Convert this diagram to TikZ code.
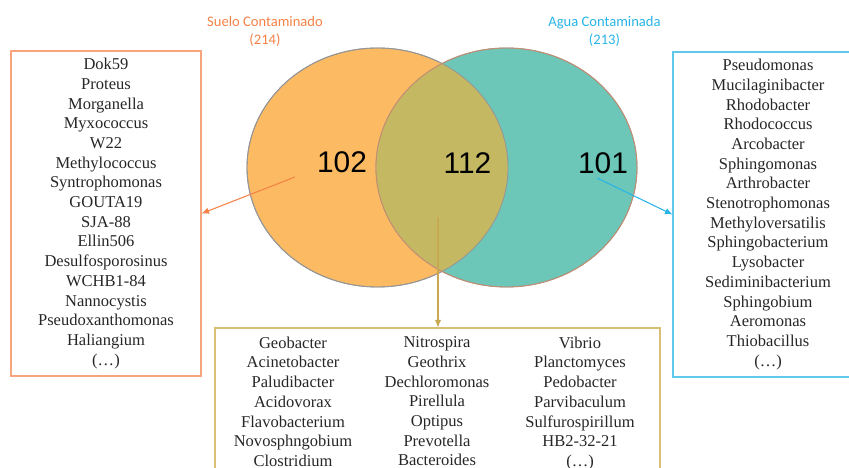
\documentclass[tikz,border=0pt]{standalone}
\usepackage{fontspec}
\setmainfont{Liberation Serif}
\newfontfamily\listfont{Liberation Serif}
\newfontfamily\labelfont{Carlito}
\newfontfamily\numfont{Liberation Sans}
\usetikzlibrary{arrows.meta,positioning}
\definecolor{suelofill}{RGB}{252,186,99}
\definecolor{aguafill}{RGB}{108,199,185}
\definecolor{bothfill}{RGB}{197,184,99}
\definecolor{sueloline}{RGB}{244,130,70}
\definecolor{sueloedge}{RGB}{246,165,125}
\definecolor{agualine}{RGB}{40,180,230}
\definecolor{aguaedge}{RGB}{95,200,235}
\definecolor{bothline}{RGB}{200,168,80}
\definecolor{bothedge}{RGB}{217,190,115}
\definecolor{venndark}{RGB}{150,150,150}

\begin{document}
\begin{tikzpicture}[
      listbox/.style={rectangle, draw, line width=0.6pt, align=center, text=black!85, font=\listfont\fontsize{9.4}{11.2}\selectfont, minimum width=3.8cm, minimum height=6.5cm},
      column/.style={align=center, inner sep=0pt, anchor=north, text=black!85, font=\listfont\fontsize{9.4}{11.2}\selectfont},
      count/.style={font=\numfont\fontsize{17}{20}\selectfont},
      setlabel/.style={font=\labelfont\fontsize{8.3}{10.2}\selectfont, align=center},
      arr/.style={-{Latex[length=1.5mm, width=1.3mm]}, line width=0.6pt}
    ]
      \useasboundingbox (0,0) rectangle (16.98,9.36);

      % Venn circles
      \draw[venndark, line width=0.5pt, fill=suelofill] (7.55,6.01) ellipse [x radius=2.61, y radius=2.39];
      \draw[venndark, line width=0.5pt, fill=aguafill] (10.13,6.01) ellipse [x radius=2.61, y radius=2.39];
      \begin{scope}
        \clip (7.55,6.01) ellipse [x radius=2.61, y radius=2.39];
        \fill[bothfill] (10.13,6.01) ellipse [x radius=2.61, y radius=2.39];
      \end{scope}
      \draw[venndark, line width=0.5pt] (7.55,6.01) ellipse [x radius=2.61, y radius=2.39];
      \draw[sueloline!50!venndark, line width=0.5pt] (10.13,6.01) ellipse [x radius=2.61, y radius=2.39];

      % Set titles & counts
      \node[setlabel, text=sueloline] (suelo) at (5.30, 8.74) {Suelo Contaminado\\(214)};
      \node[setlabel, text=agualine] (agua) at (12.09, 8.74) {Agua Contaminada\\(213)};
      \node[count] (n102) at (6.84, 6.12) {102};
      \node[count] (n112) at (9.35, 6.10) {112};
      \node[count] (n101) at (12.06, 6.10) {101};
      \coordinate (p102) at (5.90, 5.82);
      \coordinate (p112) at (8.76, 5.02);
      \coordinate (p101) at (11.94, 5.80);

      % Left: Suelo only
      \node[listbox, draw=sueloedge] (solo) at (2.12, 5.09) {Dok59\\Proteus\\Morganella\\Myxococcus\\W22\\Methylococcus\\Syntrophomonas\\GOUTA19\\SJA-88\\Ellin506\\Desulfosporosinus\\WCHB1-84\\Nannocystis\\Pseudoxanthomonas\\Haliangium\\(\dots)};

      % Right: Agua only
      \node[listbox, draw=aguaedge] (aguasola) at (15.36, 5.07) {Pseudomonas\\Mucilaginibacter\\Rhodobacter\\Rhodococcus\\Arcobacter\\Sphingomonas\\Arthrobacter\\Stenotrophomonas\\Methyloversatilis\\Sphingobacterium\\Lysobacter\\Sediminibacterium\\Sphingobium\\Aeromonas\\Thiobacillus\\(\dots)};

      % Bottom: shared
      \node[rectangle, draw=bothedge, line width=0.6pt, minimum width=8.9cm, minimum height=3.2cm] (comun) at (8.75, 1.2) {};
      \node[column] (colA) at (5.86, 2.63) {Geobacter\\Acinetobacter\\Paludibacter\\Acidovorax\\Flavobacterium\\Novosphngobium\\Clostridium};
      \node[column] (colB) at (8.74, 2.63) {Nitrospira\\Geothrix\\Dechloromonas\\Pirellula\\Optipus\\Prevotella\\Bacteroides};
      \node[column] (colC) at (11.60, 2.63) {Vibrio\\Planctomyces\\Pedobacter\\Parvibaculum\\Sulfurospirillum\\HB2-32-21\\(\dots)};

      % Connectors
      \draw[arr, sueloline] (p102) -- (solo.east);
      \draw[arr, agualine] (p101) -- (aguasola.west);
      \draw[arr, bothline] (p112) -- (p112 |- comun.north);
    \end{tikzpicture}
\end{document}
